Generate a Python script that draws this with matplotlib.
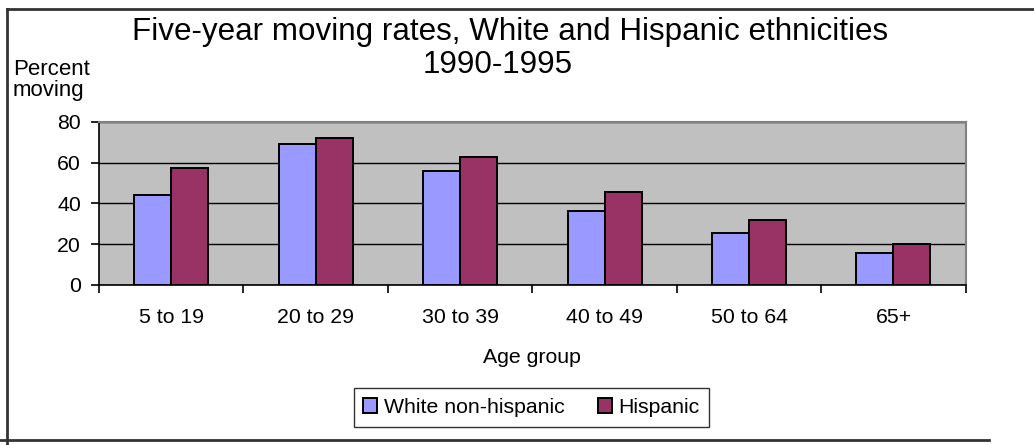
import numpy as np
import matplotlib.pyplot as plt
from matplotlib.lines import Line2D

plt.rcParams["font.family"] = ["Liberation Sans", "DejaVu Sans"]

age_groups = ["5 to 19", "20 to 29", "30 to 39", "40 to 49", "50 to 64", "65+"]
white_non_hispanic = [44.2, 69.2, 55.9, 36.4, 25.7, 15.6]
hispanic = [57.4, 72.1, 62.8, 45.7, 31.9, 20.1]

W, H = 1034, 445
fig = plt.figure(figsize=(W / 100, H / 100), dpi=100)
ax = fig.add_axes([99 / W, 1 - 285 / H, (965.7 - 99) / W, (285 - 121.7) / H])

x = np.arange(len(age_groups))
bw = 0.256
ax.bar(x - bw / 2, white_non_hispanic, bw, color="#9999FF", edgecolor="black",
       linewidth=1.4, label="White non-hispanic", zorder=3)
ax.bar(x + bw / 2, hispanic, bw, color="#993366", edgecolor="black",
       linewidth=1.4, label="Hispanic", zorder=3)

ax.set_facecolor("#C0C0C0")
ax.set_xlim(-0.5, len(age_groups) - 0.5)
ax.set_ylim(0, 80)
ax.set_yticks(np.arange(0, 81, 20))
ax.yaxis.grid(True, color="black", linewidth=1.0, zorder=1)
ax.set_axisbelow(True)

# ticks on the category boundaries, labels in the middle
ax.set_xticks(np.arange(-0.5, len(age_groups), 1.0))
ax.set_xticklabels([])
ax.set_xticks(x, minor=True)
ax.set_xticklabels(age_groups, minor=True)
ax.tick_params(axis="x", which="major", direction="out", length=6, width=1.2, color="black")
ax.tick_params(axis="x", which="minor", length=0, pad=16.5, labelsize=15.3)
ax.tick_params(axis="y", direction="out", length=6, width=1.2, pad=7, labelsize=15.3)

for side in ["left", "bottom"]:
    ax.spines[side].set_color("black")
    ax.spines[side].set_linewidth(1.2)
for side in ["top", "right"]:
    ax.spines[side].set_color("#808080")
    ax.spines[side].set_linewidth(1.5)

ax.set_xlabel("Age group", fontsize=15.3, labelpad=15)

fig.text(510 / W, 1 - 40 / H, "Five-year moving rates, White and Hispanic ethnicities",
         ha="center", va="baseline", fontsize=22.6)
fig.text(498 / W, 1 - 73 / H, "1990-1995", ha="center", va="baseline", fontsize=22.6)
fig.text(13 / W, 1 - 59 / H, "Percent\nmoving", ha="left", va="top", fontsize=16,
         linespacing=1.0)

leg = fig.legend(loc="center", bbox_to_anchor=(531.5 / W, 1 - 407.5 / H), ncol=2,
                 fontsize=15.3, frameon=True, fancybox=False, shadow=False,
                 handlelength=0.65, handleheight=0.65, handletextpad=0.3,
                 columnspacing=1.6, borderpad=0.45, borderaxespad=0)
leg.get_frame().set_edgecolor("black")
leg.get_frame().set_linewidth(1.0)

# outer chart frame
fig.add_artist(Line2D([7 / W, 1], [1 - 9 / H, 1 - 9 / H], color="#333333", linewidth=2))
fig.add_artist(Line2D([7 / W, 7 / W], [0, 1 - 9 / H], color="#333333", linewidth=2))
fig.add_artist(Line2D([0, 989 / W], [1 - 440 / H, 1 - 440 / H], color="#333333", linewidth=2))

fig.savefig("out.png", dpi=100)
